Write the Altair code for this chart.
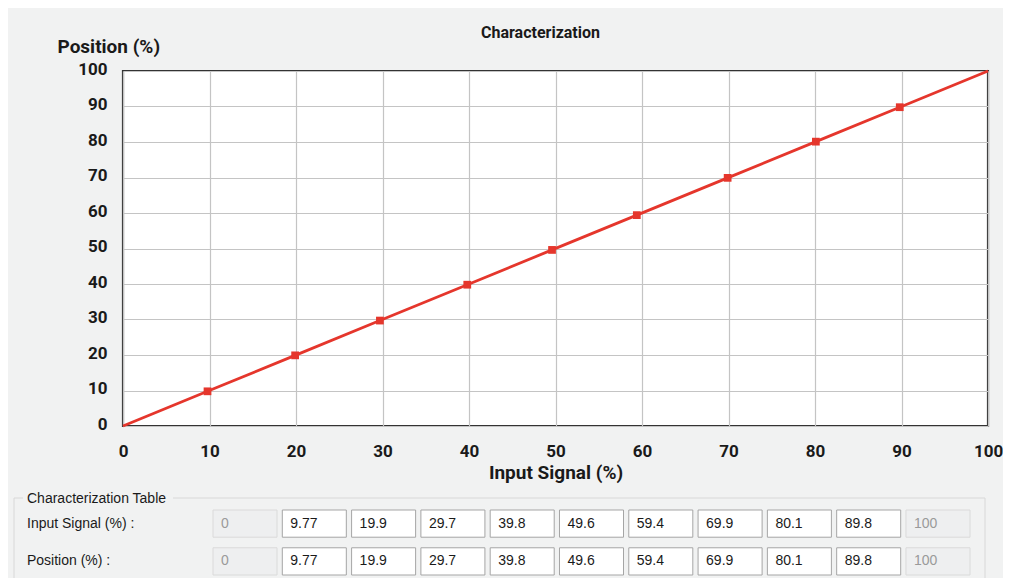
import altair as alt
import pandas as pd

# ---- data ----
signal = [0, 9.77, 19.9, 29.7, 39.8, 49.6, 59.4, 69.9, 80.1, 89.8, 100]
position = [0, 9.77, 19.9, 29.7, 39.8, 49.6, 59.4, 69.9, 80.1, 89.8, 100]
ticks = [0, 10, 20, 30, 40, 50, 60, 70, 80, 90, 100]
row_names = ["Input Signal (%) :", "Position (%) :"]
table_header = ["Characterization Table"]
chart_title = "Characterization"
x_title = "Input Signal (%)"
y_title = "Position (%)"

curve = pd.DataFrame({"signal": signal, "position": position})

records = []
for rname, vals in zip(row_names, [signal, position]):
    for i, v in enumerate(vals):
        records.append({
            "row": rname,
            "col": i,
            "label": f"{v:g}",
            "state": "on" if 0 < i < len(vals) - 1 else "off",
        })
table = pd.DataFrame(records)

# ---- styles ----
BG = "#f1f2f2"
RED = "#e5362c"
BOLD_FONT = 'Roboto, "Liberation Sans", sans-serif'
UI_FONT = '"Liberation Sans", "DejaVu Sans", sans-serif'
INK = "#1a1a1a"

x_enc = alt.X(
    "signal:Q",
    scale=alt.Scale(domain=[0, 100], nice=False, zero=False),
    axis=alt.Axis(
        values=ticks, title=x_title, grid=True, gridColor="#c4c4c4", gridWidth=1.2,
        domain=False, ticks=False, labelPadding=25, labelBaseline="middle",
        labelFont=BOLD_FONT, labelFontSize=17, labelFontWeight="bold", labelColor=INK,
        labelFlush=False, labelOverlap=False,
        titleFont=BOLD_FONT, titleFontSize=19, titleFontWeight="bold", titleColor=INK,
        titleY=46, titleBaseline="middle",
    ),
)
y_enc = alt.Y(
    "position:Q",
    scale=alt.Scale(domain=[0, 100], nice=False, zero=False),
    axis=alt.Axis(
        values=ticks, tickCount=11, title=y_title, grid=True, gridColor="#c4c4c4", gridWidth=1.2,
        domain=False, ticks=False, labelPadding=16, labelBaseline="middle", labelOffset=-2,
        labelFont=BOLD_FONT, labelFontSize=17, labelFontWeight="bold", labelColor=INK,
        labelFlush=False, labelOverlap=False,
        titleFont=BOLD_FONT, titleFontSize=19, titleFontWeight="bold", titleColor=INK,
        titleAngle=0, titleAlign="left", titleX=-66, titleY=-25, titleBaseline="middle",
    ),
)

line = alt.Chart(curve).mark_line(color=RED, strokeWidth=2.8).encode(x=x_enc, y=y_enc)
pts = (
    alt.Chart(curve)
    .transform_filter("datum.signal > 0 && datum.signal < 100")
    .mark_square(size=60, color=RED, opacity=1)
    .encode(x=x_enc, y=y_enc)
)
main = alt.layer(line, pts)

# ---- table ----
tscale_x = alt.Scale(domain=list(range(11)), range=[90, 847], paddingInner=0.076, paddingOuter=0)
tscale_y = alt.Scale(domain=row_names, range=[439, 504], paddingInner=0.28, paddingOuter=0)
ty = alt.Y("row:N", scale=tscale_y, axis=None, sort=None)

frame = alt.Chart(pd.DataFrame({"k": [0]})).mark_rect(
    fill="transparent", stroke="#d8d8d8", strokeWidth=1
).encode(x=alt.value(-109), x2=alt.value(862), y=alt.value(427), y2=alt.value(540))
hdr_bg = alt.Chart(pd.DataFrame({"k": [0]})).mark_rect(fill=BG).encode(
    x=alt.value(-100), x2=alt.value(50), y=alt.value(420), y2=alt.value(435)
)
hdr = alt.Chart(pd.DataFrame({"t": table_header})).mark_text(
    align="left", baseline="middle", font=UI_FONT, fontSize=14, color=INK
).encode(x=alt.value(-96), y=alt.value(428), text="t:N")

boxes = alt.Chart(table).mark_rect(strokeWidth=1).encode(
    x=alt.X("col:O", scale=tscale_x, axis=None),
    y=ty,
    fill=alt.Fill("state:N", scale=alt.Scale(domain=["on", "off"], range=["#ffffff", "#eeeff0"]), legend=None),
    stroke=alt.Stroke("state:N", scale=alt.Scale(domain=["on", "off"], range=["#a5a5a5", "#dadada"]), legend=None),
)
vals = alt.Chart(table).mark_text(align="left", baseline="middle", dx=8, font=UI_FONT, fontSize=14).encode(
    x=alt.X("col:O", scale=tscale_x, axis=None, bandPosition=0),
    y=ty,
    text="label:N",
    color=alt.Color("state:N", scale=alt.Scale(domain=["on", "off"], range=[INK, "#9a9a9a"]), legend=None),
)
rlabels = alt.Chart(pd.DataFrame({"row": row_names})).mark_text(
    align="left", baseline="middle", font=UI_FONT, fontSize=14, color=INK
).encode(x=alt.value(-96), y=ty, text="row:N")

table_layer = alt.layer(frame, hdr_bg, hdr, boxes, vals, rlabels)

chart = (
    alt.layer(main, table_layer)
    .resolve_scale(x="independent", y="independent")
    .properties(
        width=865,
        height=355,
        title=alt.TitleParams(
            chart_title, font=BOLD_FONT, fontSize=16, fontWeight="bold", color=INK,
            anchor="middle", frame="group", offset=1, dx=-15, dy=21, baseline="bottom",
        ),
        padding={"left": 115, "top": 63, "right": 15, "bottom": 152},
        autosize=alt.AutoSizeParams(type="none"),
        background=BG,
    )
    .configure_view(fill="white", stroke="#333333", strokeWidth=2.2)
)

chart.save("out.html", embed_options={"renderer": "svg", "actions": False})
